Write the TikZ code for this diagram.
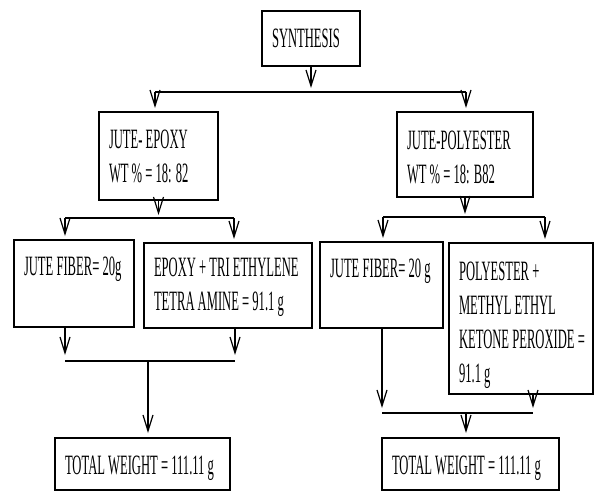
\documentclass[tikz,border=0pt]{standalone}
\usepackage{fontspec}
\usetikzlibrary{arrows.meta}
\newfontfamily\narrowserif[FakeStretch=0.45]{Liberation Serif}
\newcommand{\boxtext}[4][18pt]{\parbox[c][#3][t]{#2}{\leftskip=10pt\baselineskip=34pt\vspace*{#1}#4}}
\tikzset{
  box/.style={draw, line width=1.5pt, anchor=north west, inner sep=0pt, outer sep=0pt,
    font=\narrowserif\fontsize{28pt}{34pt}\selectfont},
  bar/.style={line width=2pt},
  arr/.style={line width=1.2pt, -{Straight Barb[length=16pt,width=10pt,line width=1.2pt]}, shorten >=4pt}
}

\begin{document}
\begin{tikzpicture}[x=1pt, y=-1pt]
\useasboundingbox (0,0) rectangle (595,493);
% boxes
\node[box] (syn) at (262,11) {\boxtext[18pt]{98pt}{55pt}{SYNTHESIS}};
\node[box] (je) at (99,112) {\boxtext[18pt]{119pt}{88pt}{JUTE- EPOXY\\WT \% = 18: 82}};
\node[box] (jp) at (397,112) {\boxtext[19pt]{136pt}{85pt}{JUTE-POLYESTER\\WT \% = 18: B82}};
\node[box] (jf1) at (14,240) {\boxtext[17pt]{120pt}{87pt}{JUTE FIBER= 20g}};
\node[box] (ep) at (144,243) {\boxtext[15pt]{168pt}{85pt}{EPOXY + TRI ETHYLENE\\TETRA AMINE = 91.1 g}};
\node[box] (jf2) at (320,242) {\boxtext[17pt]{123pt}{86pt}{JUTE FIBER= 20 g}};
\node[box] (pe) at (449,243) {\boxtext[19pt]{144pt}{151pt}{POLYESTER +\\METHYL ETHYL\\KETONE PEROXIDE =\\91.1 g}};
\node[box] (tw1) at (55,438) {\boxtext[18pt]{175pt}{52pt}{TOTAL WEIGHT = 111.11 g}};
\node[box] (tw2) at (382,438) {\boxtext[18pt]{177pt}{52pt}{TOTAL WEIGHT = 111.11 g}};

% top split
\coordinate (b1l) at (155,92);
\coordinate (b1r) at (466,92);
\draw[bar] (b1l) -- (b1r);
\draw[arr] (syn.south) -- (syn.south |- b1l);
\draw[arr] (b1l) -- (b1l |- je.north);
\draw[arr] (b1r) -- (b1r |- jp.north);

% left split
\coordinate (b2l) at (65,218);
\coordinate (b2r) at (234,218);
\draw[bar] (b2l) -- (b2r);
\draw[arr, shorten >=3pt] (je.south) -- (je.south |- b2l);
\draw[arr] (b2l) -- (b2l |- jf1.north);
\draw[arr] (b2r) -- (b2r |- ep.north);

% right split
\coordinate (b3l) at (383,217);
\coordinate (b3r) at (545,217);
\draw[bar] (b3l) -- (b3r);
\draw[arr, shorten >=3pt] (jp.south) -- (jp.south |- b3l);
\draw[arr] (b3l) -- (b3l |- jf2.north);
\draw[arr] (b3r) -- (b3r |- pe.north);

% left join
\coordinate (b4l) at (65,361);
\coordinate (b4m) at (148,361);
\coordinate (b4r) at (235,361);
\draw[bar] (b4l) -- (b4r);
\draw[arr, shorten >=6pt] (b4l |- jf1.south) -- (b4l);
\draw[arr, shorten >=6pt] (b4r |- ep.south) -- (b4r);
\draw[arr, shorten >=5pt] (b4m) -- (b4m |- tw1.north);

% right join
\coordinate (b5l) at (382,413);
\coordinate (b5m) at (466,413);
\coordinate (b5r) at (533,413);
\draw[bar] (b5l) -- (b5r);
\draw[arr, shorten >=5pt] (b5l |- jf2.south) -- (b5l);
\draw[arr, shorten >=5pt] (b5r |- pe.south) -- (b5r);
\draw[arr, shorten >=5pt] (b5m) -- (b5m |- tw2.north);

\end{tikzpicture}
\end{document}
